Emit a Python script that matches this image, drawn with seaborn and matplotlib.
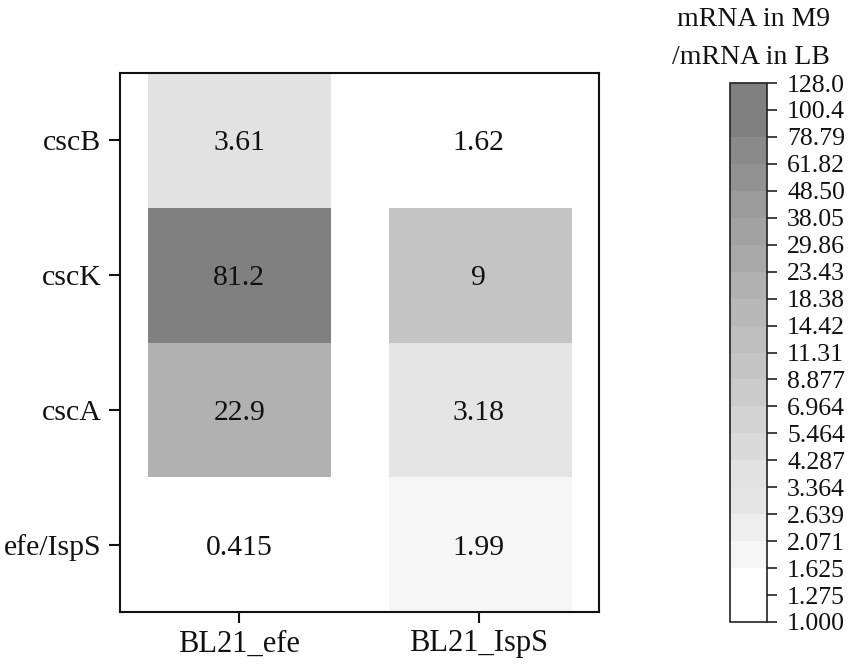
import numpy as np
import pandas as pd
import matplotlib
matplotlib.use("Agg")
import matplotlib.pyplot as plt
from matplotlib.colors import BoundaryNorm, ListedColormap
import seaborn as sns

genes = ["cscB", "cscK", "cscA", "efe/IspS"]
samples = ["BL21_efe", "BL21_IspS"]
values_efe = [3.61, 81.2, 22.9, 0.415]
values_isps = [1.62, 9, 3.18, 1.99]
labels_efe = ["3.61", "81.2", "22.9", "0.415"]
labels_isps = ["1.62", "9", "3.18", "1.99"]
level_labels = ["1.000", "1.275", "1.625", "2.071", "2.639", "3.364", "4.287",
                "5.464", "6.964", "8.877", "11.31", "14.42", "18.38", "23.43",
                "29.86", "38.05", "48.50", "61.82", "78.79", "100.4", "128.0"]
band_colors = ["#ffffff", "#ffffff", "#f6f6f6", "#eeeeee", "#e5e5e5", "#e2e2e2",
               "#dadada", "#d3d3d3", "#cbcbcb", "#c4c4c4", "#bebebe", "#b8b8b8",
               "#b1b1b1", "#a9a9a9", "#a2a2a2", "#9b9b9b", "#929292", "#8a8a8a",
               "#808080", "#808080"]

W, H = 851, 664
plt.rcParams["font.family"] = ["Liberation Serif", "DejaVu Serif"]
fig = plt.figure(figsize=(W / 100, H / 100), dpi=100)


def box(x0, y0, x1, y1):
    return [x0 / W, 1 - y1 / H, (x1 - x0) / W, (y1 - y0) / H]


ax = fig.add_axes(box(119.5, 73, 598.5, 612))
cax = fig.add_axes(box(729.5, 83, 767, 622))

df = pd.DataFrame({samples[0]: values_efe, samples[1]: values_isps}, index=genes)
annot = np.array([labels_efe, labels_isps]).T
bounds = [float(v) for v in level_labels]
cmap = ListedColormap(band_colors)
cmap.set_under("#ffffff")
norm = BoundaryNorm(bounds, cmap.N)

sns.heatmap(df, ax=ax, cmap=cmap, norm=norm, annot=annot, fmt="",
            annot_kws={"fontsize": 21.3, "color": "#111111",
                       "va": "center_baseline"},
            cbar_ax=cax, cbar_kws={"ticks": bounds, "spacing": "uniform"})

# white gaps between the two columns
for a, b in [(0, 0.12), (0.885, 1.125), (1.89, 2)]:
    ax.axvspan(a, b, color="white", lw=0, zorder=1.5)

for s in ax.spines.values():
    s.set_visible(True)
    s.set_linewidth(1.5)
    s.set_color("#111111")
ax.tick_params(axis="both", length=8, width=1.5, color="#111111", labelsize=21.5,
               labelcolor="#111111")
ax.tick_params(axis="x", pad=4.5)
ax.tick_params(axis="y", pad=5)
ax.set_yticklabels(genes, rotation=0, va="center_baseline")
ax.set_xticklabels(samples, rotation=0, fontsize=22)
ax.set_xlabel("")
ax.set_ylabel("")

cbar = ax.collections[0].colorbar
cbar.ax.set_yticks(bounds)
cbar.ax.set_yticklabels(level_labels, va="center_baseline")
cbar.ax.minorticks_off()
cbar.ax.tick_params(length=7.5, width=1.2, labelsize=18.5, pad=7, color="#222222",
                    labelcolor="#111111")
cbar.outline.set_visible(True)
cbar.outline.set_linewidth(1.2)
cbar.outline.set_edgecolor("#222222")

fig.text(830 / W, 1 - 19 / H, "mRNA in M9", ha="right", va="center",
         fontsize=20, color="#111111")
fig.text(830 / W, 1 - 57 / H, "/mRNA in LB", ha="right", va="center",
         fontsize=20, color="#111111")

fig.savefig("out.png", dpi=100, facecolor="white")
